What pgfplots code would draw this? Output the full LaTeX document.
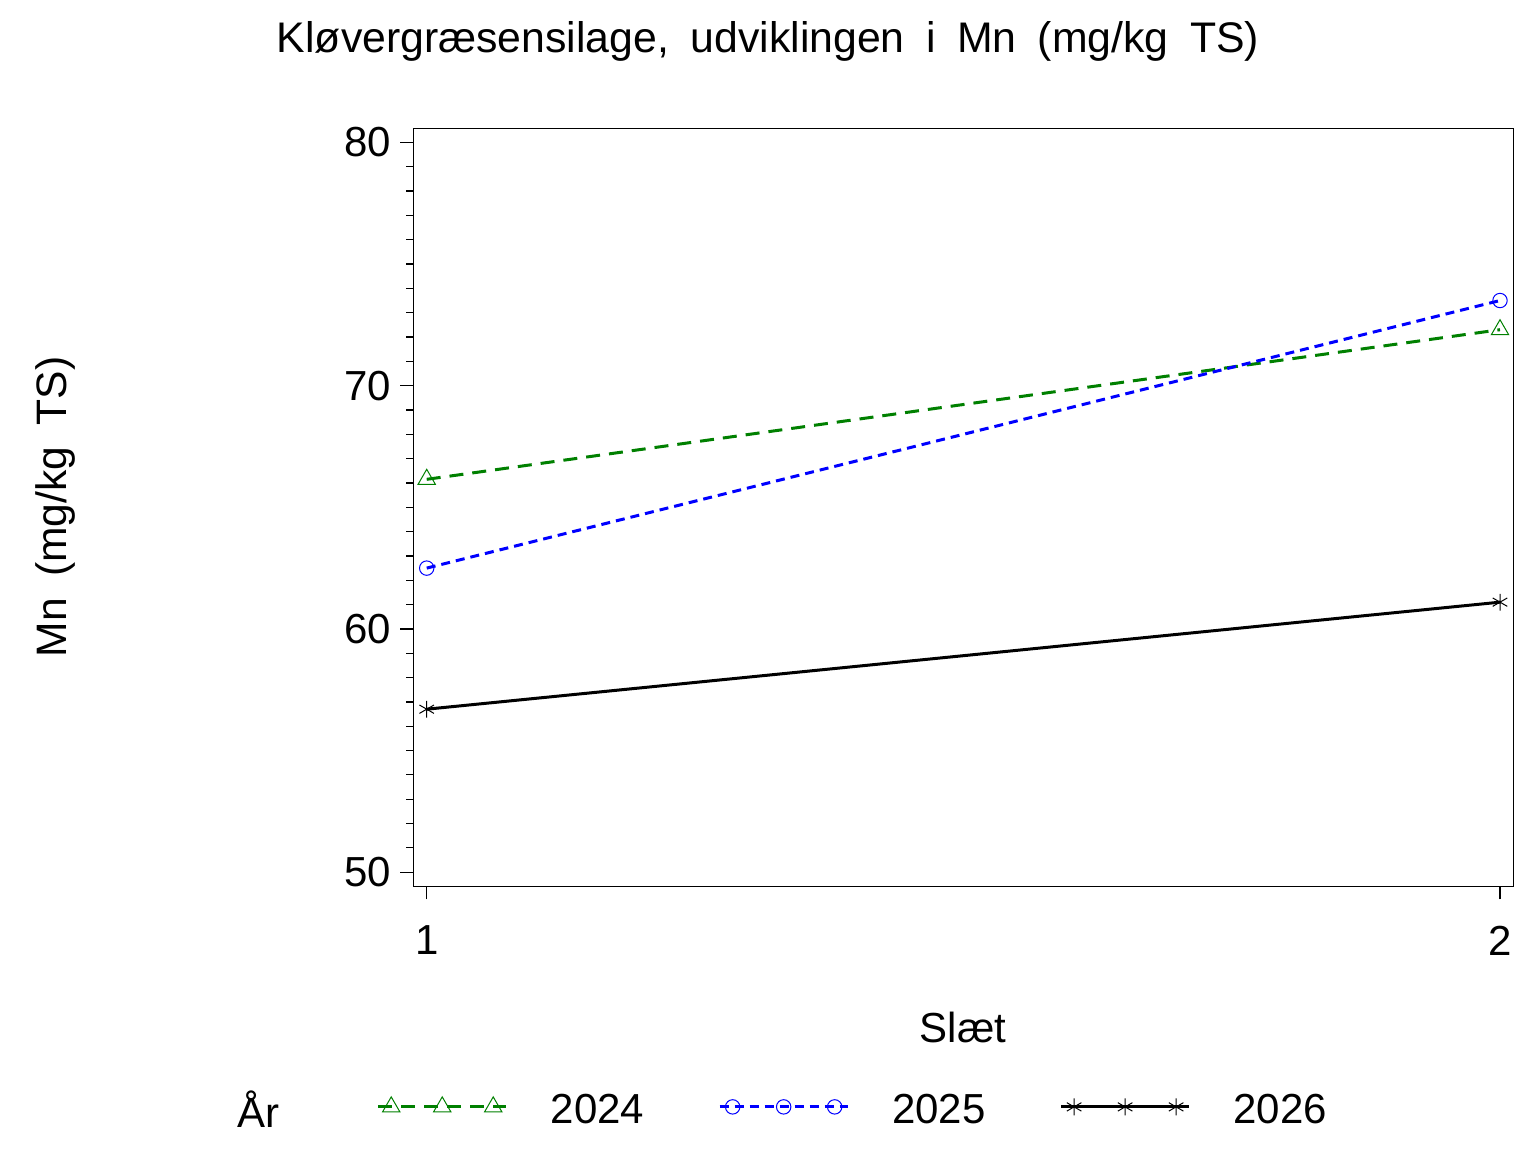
\documentclass[border=0pt]{standalone}
\usepackage{fontspec}
\setmainfont{Liberation Sans}[WordSpace=1.8]
\usepackage{pgfplots}
\pgfplotsset{compat=1.18}
\usetikzlibrary{plotmarks}
\definecolor{sasgreen}{RGB}{0,128,0}
\definecolor{sasblue}{RGB}{0,0,255}
\begin{document}
\fontsize{21bp}{25bp}\selectfont
\begin{tikzpicture}
\path[use as bounding box] (0,0) rectangle (768bp,576bp);
\begin{axis}[
  at={(206.65bp,132.85bp)}, anchor=south west,
  scale only axis, width=550bp, height=379bp,
  xmin=0.9875, xmax=2.0124, ymin=49.42, ymax=80.58,
  xtick={1,2}, ytick={50,60,70,80},
  minor ytick={51,...,59,61,62,...,69,71,72,...,79},
  tick align=outside, tick pos=left,
  major tick length=6.5bp, minor tick length=3.5bp,
  every tick/.style={black, line width=0.6bp},
  axis line style={line width=0.6bp},
  tick label style={font=\fontsize{21bp}{25bp}\selectfont},
  /pgf/number format/assume math mode=true,
  yticklabel style={anchor=east, inner sep=0pt, xshift=-4.5bp},
  xticklabel style={anchor=north, inner sep=0pt, yshift=-13bp},
  legend columns=-1,
  legend style={draw=none, fill=none, inner sep=0pt, at={(-0.0336,-0.291)}, anchor=west,
    font=\fontsize{21bp}{25bp}\selectfont, nodes={inner sep=0pt}},
  /tikz/every odd column/.append style={column sep=21.5bp},
  /tikz/every even column/.append style={column sep=37bp},
  legend image code/.code={%
    \draw[#1,mark=none] (0bp,0bp) -- (64bp,0bp);
    \draw[#1,only marks] plot coordinates {(6.5bp,0bp) (32bp,0bp) (57.5bp,0bp)};
  },
]
\addplot[sasgreen, line width=1.5bp, dash pattern=on 7bp off 4.5bp, mark=triangle, mark size=5bp,
  mark options={solid, line width=0.5bp}] coordinates {(1,66.15) (2,72.3)};
\addlegendentry{\raisebox{-5.5bp}{2024}}
\addplot[sasblue, line width=1.5bp, dash pattern=on 4.5bp off 3bp, mark=o, mark size=3.6bp,
  mark options={solid, line width=0.5bp}] coordinates {(1,62.5) (2,73.5)};
\addlegendentry{\raisebox{-5.5bp}{2025}}
\addplot[black, line width=1.5bp, mark=asterisk, mark size=4.2bp,
  mark options={solid, line width=0.5bp}] coordinates {(1,56.7) (2,61.1)};
\addlegendentry{\raisebox{-5.5bp}{2026}}
\end{axis}
\node at (384bp,555.5bp) {\fontsize{21.4bp}{25bp}\selectfont Kløvergræsensilage, udviklingen i Mn (mg/kg TS)};
\node[rotate=90] at (27.5bp,322.5bp) {\fontsize{21.3bp}{25bp}\selectfont Mn (mg/kg TS)};
\node at (481.5bp,62.5bp) {Slæt};
\node[anchor=base west, inner sep=0pt] at (118.5bp,12.5bp) {År};
\end{tikzpicture}
\end{document}
